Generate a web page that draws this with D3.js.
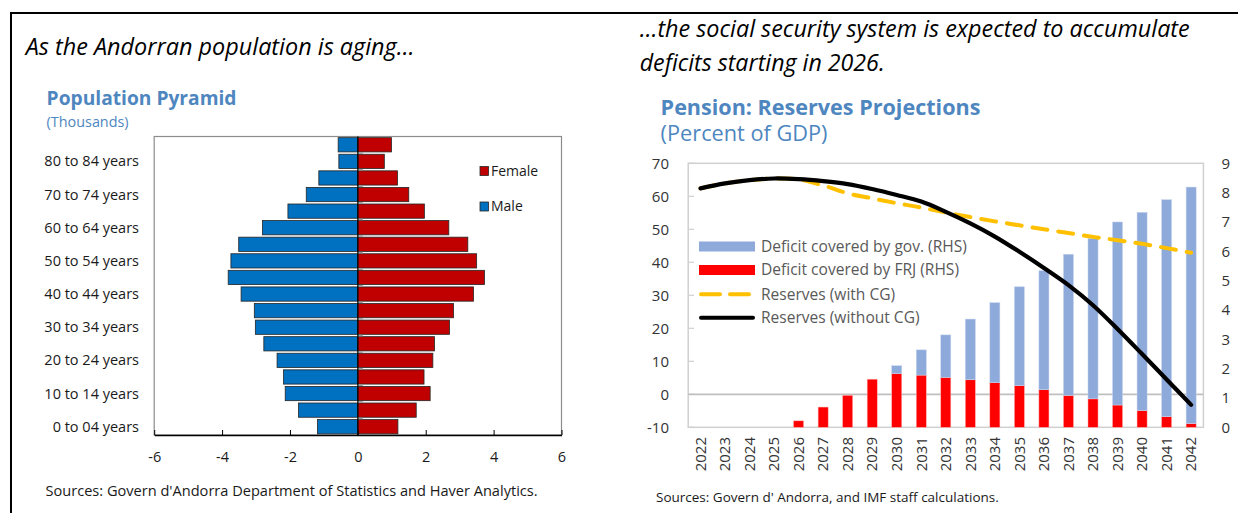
<!DOCTYPE html>
<html>
<head>
<meta charset="utf-8">
<script src="https://cdn.jsdelivr.net/npm/d3@7"></script>
<style>
  body { margin: 0; background: #fff; }
  svg { display: block; font-family: "Open Sans", "Noto Sans", sans-serif; }
</style>
</head>
<body>
<svg id="chart" width="1238" height="513"></svg>
<script>
// ---- Population pyramid (thousands), youngest group first ----
const ageGroups = [
  "0 to 04 years", "05 to 09 years", "10 to 14 years", "15 to 19 years",
  "20 to 24 years", "25 to 29 years", "30 to 34 years", "35 to 39 years",
  "40 to 44 years", "45 to 49 years", "50 to 54 years", "55 to 59 years",
  "60 to 64 years", "65 to 69 years", "70 to 74 years", "75 to 79 years",
  "80 to 84 years", "85 years and over"
];
const maleThousands = [
  -1.19, -1.75, -2.14, -2.19, -2.38, -2.77, -3.02, -3.05, -3.44,
  -3.82, -3.74, -3.51, -2.81, -2.06, -1.52, -1.15, -0.56, -0.58
];
const femaleThousands = [
  1.18, 1.72, 2.13, 1.95, 2.21, 2.26, 2.70, 2.82, 3.41,
  3.73, 3.50, 3.24, 2.68, 1.96, 1.50, 1.17, 0.78, 0.99
];
const pyramidTicks = [-6, -4, -2, 0, 2, 4, 6];

// ---- Pension reserves projections ----
const years = [
  "2022", "2023", "2024", "2025", "2026", "2027", "2028", "2029", "2030", "2031", "2032",
  "2033", "2034", "2035", "2036", "2037", "2038", "2039", "2040", "2041", "2042"
];
// deficits, percent of GDP (right-hand scale)
const deficitFRJ = [
  0, 0, 0, 0, 0.22, 0.69, 1.09, 1.64, 1.83, 1.78, 1.70,
  1.62, 1.52, 1.42, 1.28, 1.09, 0.97, 0.76, 0.57, 0.36, 0.13
];
const deficitGov = [
  0, 0, 0, 0, 0, 0, 0, 0, 0.27, 0.86, 1.45,
  2.07, 2.73, 3.37, 4.06, 4.81, 5.47, 6.24, 6.76, 7.40, 8.06
];
// reserves, percent of GDP (left-hand scale)
const reservesWithCG = [
  62.4, 63.9, 64.9, 65.4, 65.1, 63.3, 60.9, 59.4, 57.9, 56.6, 55.1,
  53.7, 52.4, 51.2, 50.0, 48.9, 47.7, 46.7, 45.6, 44.3, 42.9
];
const reservesWithoutCG = [
  62.4, 63.9, 64.9, 65.4, 65.2, 64.6, 63.7, 62.2, 60.4, 58.4, 55.3,
  51.8, 47.8, 43.2, 38.3, 33.1, 27.0, 19.8, 12.2, 4.5, -3.2
];
const leftTicks = [-10, 0, 10, 20, 30, 40, 50, 60, 70];
const rightTicks = [0, 1, 2, 3, 4, 5, 6, 7, 8, 9];

const svg = d3.select("#chart");

// scale a text's font size so the line spans the given width
function fitWidth(sel, width) {
  const size = parseFloat(sel.style("font-size"));
  const w = sel.node().getComputedTextLength();
  sel.style("font-size", (size * width / w).toFixed(2) + "px");
  return sel;
}
function label(x, y, str, size, opts = {}) {
  const t = svg.append("text")
    .attr("x", x).attr("y", y)
    .style("font-size", size + "px")
    .attr("fill", opts.fill || "#000")
    .text(str);
  if (opts.italic) t.style("font-style", "italic");
  if (opts.bold) t.style("font-weight", "bold");
  if (opts.width) fitWidth(t, opts.width);
  return t;
}

// page frame
svg.append("line").attr("x1", 10).attr("x2", 1238).attr("y1", 13).attr("y2", 13)
  .attr("stroke", "#000").attr("stroke-width", 2);
svg.append("line").attr("x1", 11).attr("x2", 11).attr("y1", 12).attr("y2", 513)
  .attr("stroke", "#000").attr("stroke-width", 2);

const titleBlue = "#4e86c0";

// ================= Left panel: population pyramid =================
label(25.7, 54.5, "As the Andorran population is aging…", 22, { italic: true, width: 389 });
label(46.6, 105, "Population Pyramid", 20, { bold: true, fill: titleBlue, width: 190 });
label(46.6, 126.5, "(Thousands)", 13, { fill: titleBlue, width: 82 });

const px = d3.scaleLinear().domain([-6, 6]).range([154.2, 561.5]);
const py = d3.scaleBand().domain(ageGroups).range([435, 136.5])
  .paddingInner(0.14).paddingOuter(0.07);

const pyr = svg.append("g");
pyr.append("rect")
  .attr("x", px(-6)).attr("y", 136.5)
  .attr("width", px(6) - px(-6)).attr("height", 435 - 136.5)
  .attr("fill", "none").attr("stroke", "#8c8c8c").attr("stroke-width", 1.2);

pyr.selectAll("rect.male").data(maleThousands).join("rect")
  .attr("class", "male")
  .attr("x", d => px(d)).attr("y", (d, i) => py(ageGroups[i]))
  .attr("width", d => px(0) - px(d)).attr("height", py.bandwidth())
  .attr("fill", "#0070c0").attr("stroke", "#262626").attr("stroke-width", 0.8);

pyr.selectAll("rect.female").data(femaleThousands).join("rect")
  .attr("class", "female")
  .attr("x", px(0)).attr("y", (d, i) => py(ageGroups[i]))
  .attr("width", d => px(d) - px(0)).attr("height", py.bandwidth())
  .attr("fill", "#c00000").attr("stroke", "#262626").attr("stroke-width", 0.8);

// category axis along zero, with small ticks between groups
const gapY = i => py(ageGroups[i]) + py.bandwidth() + py.step() * py.paddingInner() / 2;
pyr.selectAll("line.cat").data(d3.range(1, ageGroups.length))
  .join("line").attr("class", "cat")
  .attr("x1", px(0)).attr("x2", px(0) + 5)
  .attr("y1", gapY).attr("y2", gapY)
  .attr("stroke", "#9a9a9a").attr("stroke-width", 1.5);
pyr.append("line")
  .attr("x1", px(0)).attr("x2", px(0)).attr("y1", 136.5).attr("y2", 435)
  .attr("stroke", "#000").attr("stroke-width", 1.2);

pyr.selectAll("text.age").data(ageGroups.filter((d, i) => i % 2 === 0))
  .join("text").attr("class", "age")
  .attr("x", 139).attr("y", d => py(d) + py.bandwidth() / 2)
  .attr("dy", "0.35em").attr("text-anchor", "end")
  .style("font-size", "14.5px").attr("fill", "#1a1a1a")
  .text(d => d);

const xAxis = d3.axisBottom(px).tickValues(pyramidTicks)
  .tickSizeInner(-5).tickSizeOuter(0).tickPadding(17)
  .tickFormat(d => String(d));
const xg = pyr.append("g").attr("transform", "translate(0,435)").call(xAxis);
xg.select(".domain").attr("stroke", "#000").attr("stroke-width", 1.5);
xg.selectAll(".tick line").attr("stroke", "#000");
xg.selectAll(".tick text").style("font-size", "14.5px").attr("fill", "#1a1a1a")
  .style("font-family", "'Open Sans', sans-serif");

// legend
const pyrLegend = [
  { name: "Female", color: "#c00000", y: 171 },
  { name: "Male", color: "#0070c0", y: 206.5 }
];
pyrLegend.forEach(d => {
  pyr.append("rect").attr("x", 480).attr("y", d.y - 4.5).attr("width", 8.5).attr("height", 9)
    .attr("fill", d.color).attr("stroke", "#262626").attr("stroke-width", 0.8);
  pyr.append("text").attr("x", 491).attr("y", d.y).attr("dy", "0.35em")
    .style("font-size", "14px").attr("fill", "#1a1a1a").text(d.name);
});

label(45.5, 495.5, "Sources: Govern d'Andorra Department of Statistics and Haver Analytics.", 13,
  { fill: "#1a1a1a", width: 492 });

// ================= Right panel: pension reserves =================
label(639.7, 36.5, "…the social security system is expected to accumulate", 22, { italic: true, width: 550 });
label(639.7, 70.5, "deficits starting in 2026.", 22, { italic: true, width: 245 });
label(660.6, 114.5, "Pension: Reserves Projections", 21, { bold: true, fill: titleBlue, width: 320 });
label(660.6, 141, "(Percent of GDP)", 20, { fill: titleBlue, width: 167 });

const xb = d3.scaleBand().domain(years).range([688.2, 1203.4])
  .paddingInner(0.59).paddingOuter(0.295);
const yL = d3.scaleLinear().domain([-10, 70]).range([427.3, 163.3]);
const yR = d3.scaleLinear().domain([0, 9]).range([427.3, 163.3]);
const xc = y => xb(y) + xb.bandwidth() / 2;

const pen = svg.append("g");
pen.append("rect")
  .attr("x", 688.2).attr("y", 163.3).attr("width", 1203.4 - 688.2).attr("height", 427.3 - 163.3)
  .attr("fill", "none").attr("stroke", "#d0d0d0").attr("stroke-width", 1.5);
pen.selectAll("line.lt").data(leftTicks).join("line").attr("class", "lt")
  .attr("x1", 688.2).attr("x2", 694).attr("y1", d => yL(d)).attr("y2", d => yL(d))
  .attr("stroke", "#d0d0d0").attr("stroke-width", 1.2);
pen.append("line")
  .attr("x1", 688.2).attr("x2", 1203.4).attr("y1", yL(0)).attr("y2", yL(0))
  .attr("stroke", "#bfbfbf").attr("stroke-width", 1.8);

// stacked deficit bars (RHS)
pen.selectAll("rect.frj").data(deficitFRJ).join("rect").attr("class", "frj")
  .attr("x", (d, i) => xb(years[i])).attr("width", xb.bandwidth())
  .attr("y", d => yR(d)).attr("height", d => yR(0) - yR(d))
  .attr("fill", "#ff0000").attr("stroke", "#ffb3b3").attr("stroke-width", 0.5);
pen.selectAll("rect.gov").data(deficitGov).join("rect").attr("class", "gov")
  .attr("x", (d, i) => xb(years[i])).attr("width", xb.bandwidth())
  .attr("y", (d, i) => yR(d + deficitFRJ[i]))
  .attr("height", (d, i) => yR(deficitFRJ[i]) - yR(d + deficitFRJ[i]))
  .attr("fill", "#8eaadb").attr("stroke", "#c9d6ee").attr("stroke-width", 0.5)
  .attr("stroke-opacity", d => d > 0 ? 1 : 0);

// reserve lines (LHS)
const lineGen = vals => d3.line()
  .x((d, i) => xc(years[i])).y(d => yL(d))
  .curve(d3.curveCatmullRom.alpha(0.5))(vals);
pen.append("path").attr("d", lineGen(reservesWithCG))
  .attr("fill", "none").attr("stroke", "#ffc000").attr("stroke-width", 4)
  .attr("stroke-dasharray", "15,11").attr("stroke-linecap", "round");
pen.append("path").attr("d", lineGen(reservesWithoutCG))
  .attr("fill", "none").attr("stroke", "#000").attr("stroke-width", 4.2)
  .attr("stroke-linecap", "round");

// axes labels
pen.selectAll("text.yl").data(leftTicks).join("text").attr("class", "yl")
  .attr("x", 669).attr("y", d => yL(d)).attr("dy", "0.35em").attr("text-anchor", "end")
  .style("font-size", "15px").attr("fill", "#333").text(d => String(d));
pen.selectAll("text.yr").data(rightTicks).join("text").attr("class", "yr")
  .attr("x", 1221.5).attr("y", d => yR(d)).attr("dy", "0.35em")
  .style("font-size", "15px").attr("fill", "#333").text(d => String(d));
pen.selectAll("text.yr-year").data(years).join("text").attr("class", "yr-year")
  .attr("transform", d => `translate(${xc(d)},437) rotate(-90)`)
  .attr("dy", "0.35em").attr("text-anchor", "end")
  .style("font-size", "15px").attr("fill", "#333").text(d => d);

// legend
const legendItems = [
  { name: "Deficit covered by gov. (RHS)", kind: "bar", color: "#8eaadb", y: 246.5 },
  { name: "Deficit covered by FRJ (RHS)", kind: "bar", color: "#ff0000", y: 270 },
  { name: "Reserves (with CG)", kind: "dash", color: "#ffc000", y: 294.3 },
  { name: "Reserves (without CG)", kind: "line", color: "#000", y: 317.7 }
];
let legendSize = null;
legendItems.forEach((d, i) => {
  if (d.kind === "bar") {
    pen.append("rect").attr("x", 699).attr("y", d.y - 5).attr("width", 56).attr("height", 10)
      .attr("fill", d.color);
  } else {
    pen.append("line").attr("x1", 701).attr("x2", 753).attr("y1", d.y).attr("y2", d.y)
      .attr("stroke", d.color).attr("stroke-width", 4).attr("stroke-linecap", "round")
      .attr("stroke-dasharray", d.kind === "dash" ? "19,10" : null);
  }
  const t = pen.append("text").attr("x", 761).attr("y", d.y).attr("dy", "0.35em")
    .style("font-size", "15px").attr("fill", "#595959").text(d.name);
  if (i === 0) { fitWidth(t, 206); legendSize = t.style("font-size"); }
  else t.style("font-size", legendSize);
});

label(656, 502, "Sources: Govern d' Andorra, and IMF staff calculations.", 12,
  { fill: "#1a1a1a", width: 343 });
</script>
</body>
</html>
